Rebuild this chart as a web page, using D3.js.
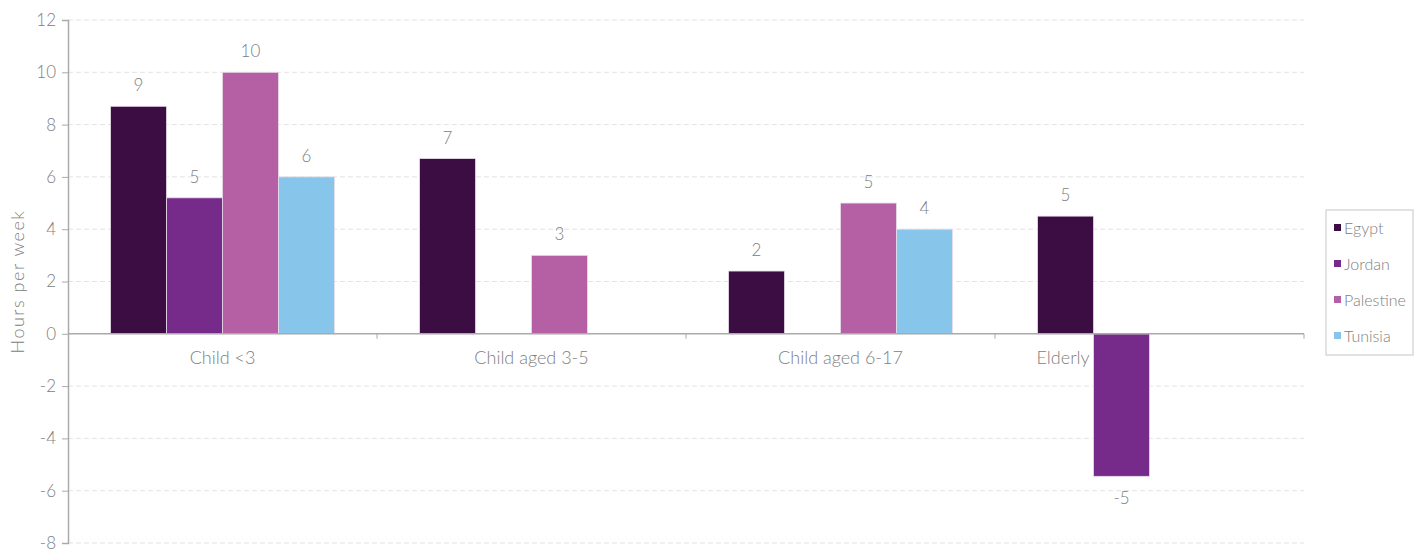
<!DOCTYPE html>
<html><head><meta charset="utf-8">
<script src="https://cdn.jsdelivr.net/npm/d3@7"></script>
<style>
body{margin:0;background:#fff;}
text{font-family:"Lato","Open Sans",sans-serif;font-weight:300;fill:#808080;}
</style></head>
<body><svg id="c" width="1419" height="552"></svg>
<script>
const categories = ["Child <3", "Child aged 3-5", "Child aged 6-17", "Elderly"];
const seriesNames = ["Egypt", "Jordan", "Palestine", "Tunisia"];
const egypt = [8.7, 6.7, 2.4, 4.5];
const jordan = [5.2, null, null, -5.45];
const palestine = [10, 3, 5, null];
const tunisia = [6, null, 4, null];
const yTicks = [-8, -6, -4, -2, 0, 2, 4, 6, 8, 10, 12];
const colors = ["#3b0d42", "#762a8a", "#b55fa5", "#88c5ea"];

const seriesValues = [egypt, jordan, palestine, tunisia];
const svg = d3.select("#c");
const m = {l: 68, r: 1304, t: 20, b: 543};

const x0 = d3.scaleBand().domain(categories).range([m.l, m.r]).paddingInner(0).paddingOuter(0);
const x1 = d3.scaleBand().domain(seriesNames).range([0, x0.bandwidth()]).paddingOuter(0.76).paddingInner(0);
const y = d3.scaleLinear().domain([-8, 12]).range([m.b, m.t]);

// gridlines
svg.append("g").selectAll("line").data(yTicks.filter(d => d !== 0)).join("line")
  .attr("x1", m.l).attr("x2", m.r).attr("y1", d => y(d)).attr("y2", d => y(d))
  .attr("stroke", "#e3e3e3").attr("stroke-dasharray", "5,3").attr("stroke-width", 1);

// y axis
const ya = svg.append("g").attr("transform", `translate(${m.l},0)`)
  .call(d3.axisLeft(y).tickValues(yTicks).tickSize(6).tickPadding(6).tickFormat(d => String(d)));
ya.select(".domain").attr("stroke", "#aaa").attr("stroke-width", 1.5);
ya.selectAll(".tick line").attr("stroke", "#aaa");
ya.selectAll(".tick text").style("font-size", "17px").attr("fill", "#808080").attr("font-family", null);

// bars
const data = [];
categories.forEach((c, i) => seriesNames.forEach((s, j) => {
  const v = seriesValues[j][i];
  if (v !== null) data.push({c, s, v, j});
}));
svg.append("g").selectAll("rect").data(data).join("rect")
  .attr("x", d => x0(d.c) + x1(d.s))
  .attr("width", x1.bandwidth())
  .attr("y", d => y(Math.max(0, d.v)))
  .attr("height", d => Math.abs(y(d.v) - y(0)))
  .attr("fill", d => colors[d.j])
  .attr("stroke", "#e8dcea").attr("stroke-width", 0.8);

// value labels
svg.append("g").selectAll("text").data(data).join("text")
  .attr("x", d => x0(d.c) + x1(d.s) + x1.bandwidth() / 2)
  .attr("y", d => d.v >= 0 ? y(d.v) - 15 : y(d.v) + 28)
  .attr("text-anchor", "middle")
  .style("font-size", "17px")
  .text(d => String(Math.round(d.v)));

// x axis at zero
const xa = svg.append("g").attr("transform", `translate(0,${y(0)})`);
xa.append("line").attr("x1", m.l).attr("x2", m.r).attr("stroke", "#aaa").attr("stroke-width", 1.5);
const bounds = categories.map(c => x0(c)).concat([m.r]);
xa.selectAll(".tk").data(bounds.slice(1)).join("line").attr("class", "tk")
  .attr("x1", d => d).attr("x2", d => d).attr("y1", 0).attr("y2", 5).attr("stroke", "#aaa");

// category labels
xa.selectAll(".cl").data(categories).join("text").attr("class", "cl")
  .each(function(c, i) {
    const negIdx = seriesNames.findIndex((s, j) => seriesValues[j][i] !== null && seriesValues[j][i] < 0);
    const t = d3.select(this).attr("y", 30).style("font-size", "18px").text(c);
    if (negIdx >= 0) {
      t.attr("x", x0(c) + x1(seriesNames[negIdx]) - 4).attr("text-anchor", "end");
    } else {
      t.attr("x", x0(c) + x0.bandwidth() / 2).attr("text-anchor", "middle");
    }
  });

// y title
svg.append("text").attr("transform", `translate(24,${(m.t + m.b) / 2}) rotate(-90)`)
  .attr("text-anchor", "middle").style("font-size", "18px").style("letter-spacing", "1.5px")
  .text("Hours per week");

// legend
const lg = svg.append("g").attr("transform", "translate(1326,210)");
lg.append("rect").attr("width", 87).attr("height", 145).attr("fill", "#fff").attr("stroke", "#d9d9d9").attr("stroke-width", 1.5);
seriesNames.forEach((s, j) => {
  const g = lg.append("g").attr("transform", `translate(8,${18 + j * 36})`);
  g.append("rect").attr("x", 0).attr("y", -4).attr("width", 7).attr("height", 7).attr("fill", colors[j]);
  g.append("text").attr("x", 10).attr("y", 6).style("font-size", "16px").text(s);
});
</script></body></html>
